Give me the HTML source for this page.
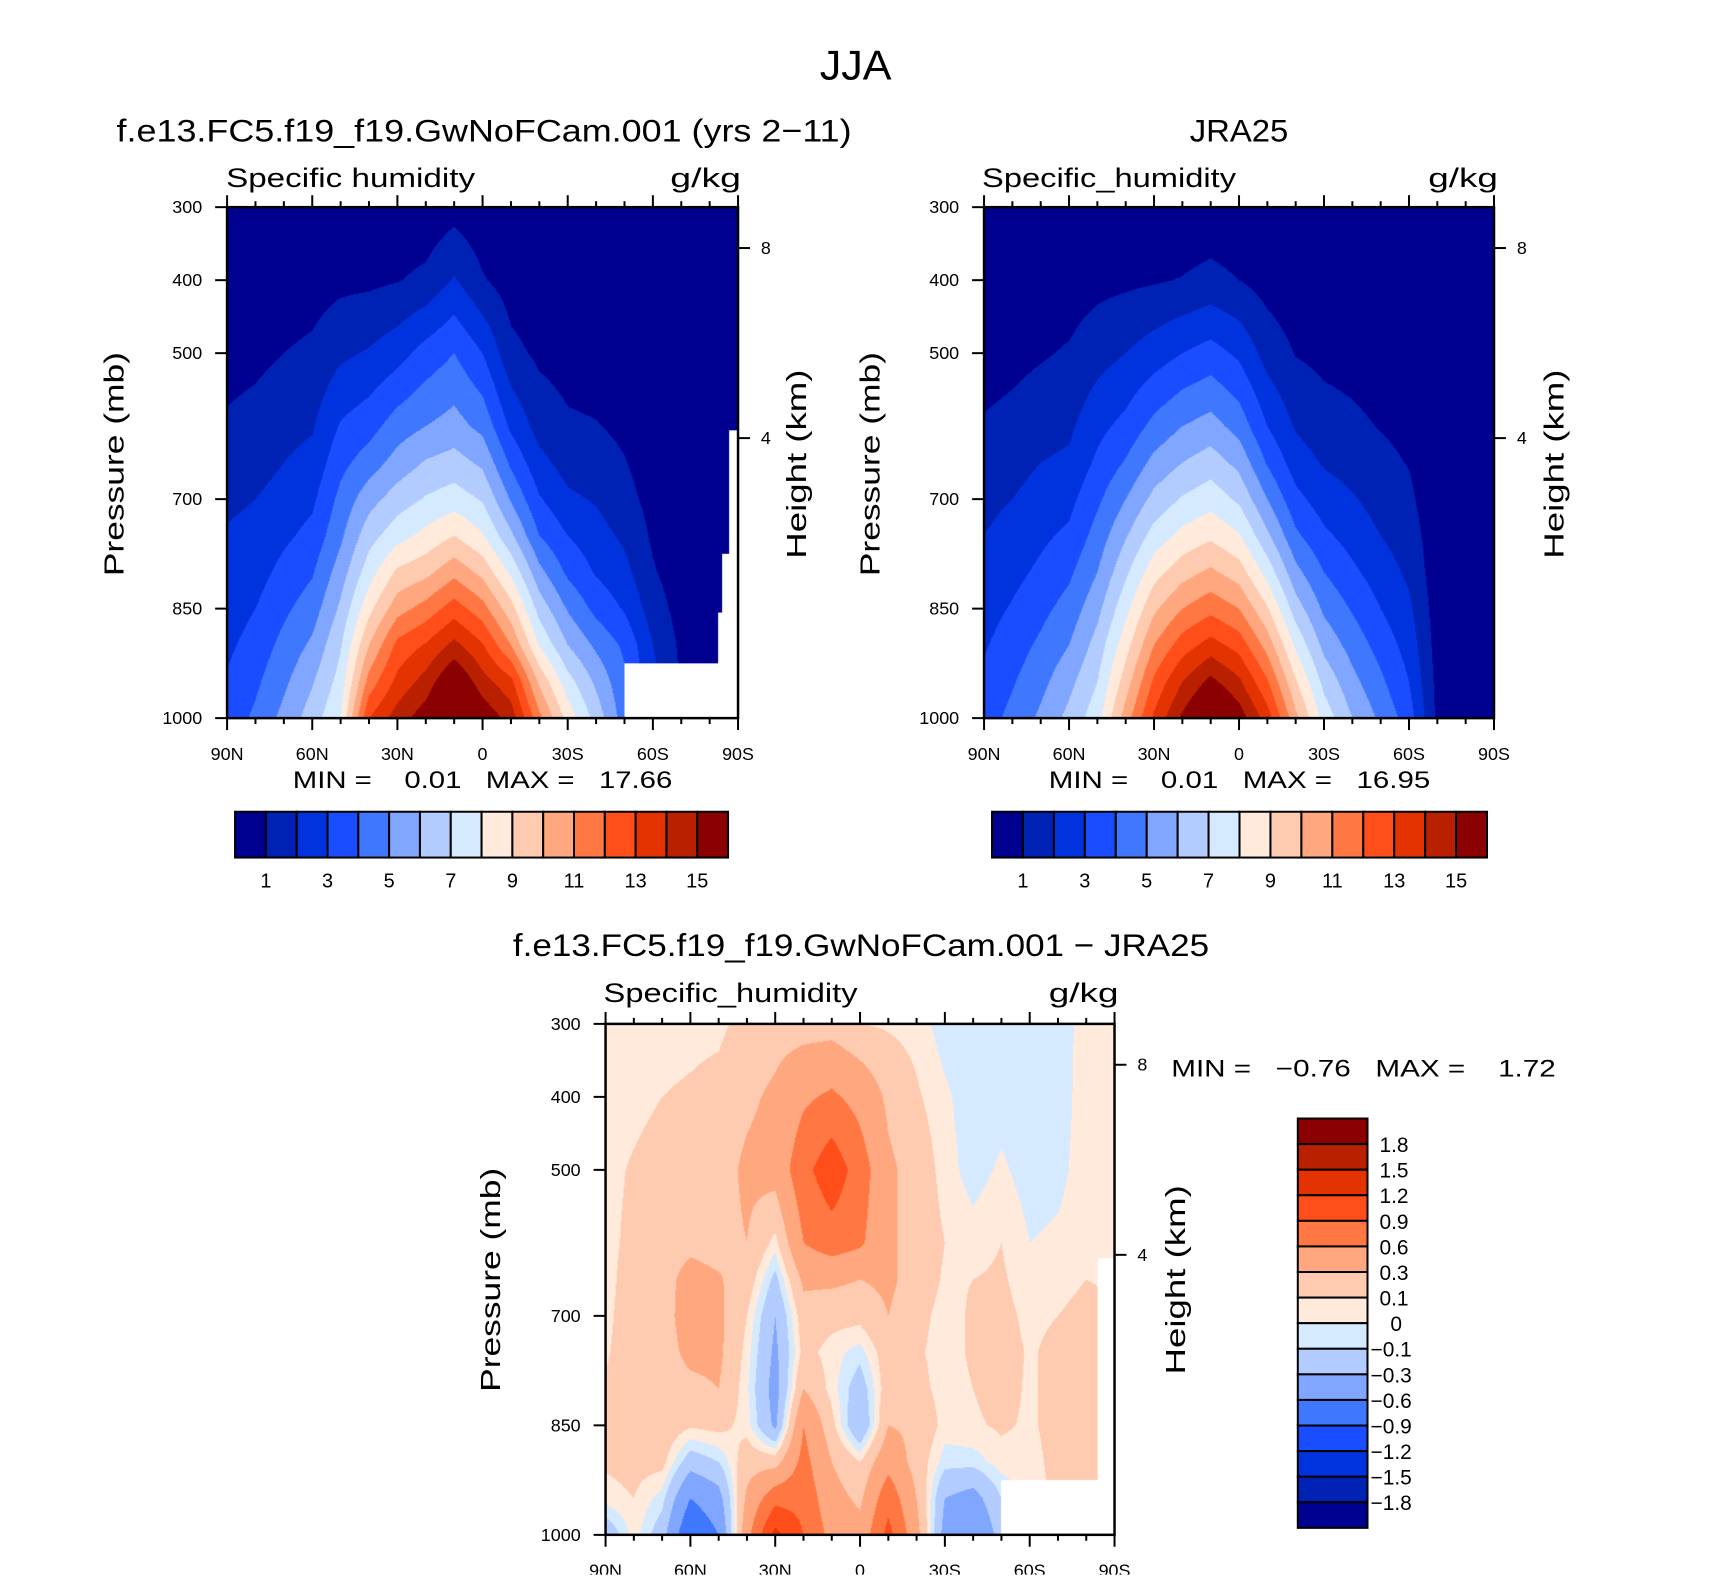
<!DOCTYPE html>
<html><head><meta charset="utf-8"><style>
body{margin:0;background:#fff;width:1710px;height:1581px;overflow:hidden;position:relative}
#wrap{position:absolute;left:0;top:0;width:1710px;height:1581px;transform:scale(0.996);transform-origin:0 0}
canvas{position:absolute}
svg{position:absolute;left:0;top:0}
text{font-family:"Liberation Sans",sans-serif;fill:#000;white-space:pre}
</style></head><body>
<div id="wrap">
<canvas id="c1" style="left:228px;top:208px" width="513" height="513"></canvas>
<canvas id="c2" style="left:988px;top:208px" width="512" height="513"></canvas>
<canvas id="c3" style="left:608px;top:1028px" width="511" height="513"></canvas>
<svg id="svg" width="1710" height="1581" xmlns="http://www.w3.org/2000/svg"></svg>
</div>
<script>
// ---- data ----
const lats = [90,80,70,60,50,40,30,20,10,0,-10,-20,-30,-40,-50,-60,-70,-80,-90];
const pLevels = [1000,950,900,850,800,750,700,650,600,500,400,300];
const modelQ = [
[3.4,3.1,2.8,2.5,2.3,2.1,1.8,1.5,1.15,0.6,0.25,0.05],
[4.2,3.8,3.4,3.0,2.6,2.3,2.0,1.6,1.35,0.75,0.3,0.06],
[5.3,4.8,4.3,3.8,3.3,2.8,2.4,2.0,1.7,1.0,0.45,0.08],
[6.5,5.9,5.2,4.5,3.9,3.3,2.8,2.3,1.9,1.2,0.55,0.1],
[8.0,7.4,6.9,6.2,5.5,4.8,4.3,3.7,3.1,1.8,0.75,0.15],
[13,11.4,10,8.7,7.55,6.6,5.6,4.5,3.6,2.1,0.8,0.15],
[14.5,13.3,12.3,10.6,9.2,7.6,6.5,5.4,4.5,2.6,0.95,0.2],
[15.6,14.4,13.1,11.4,9.7,8.3,7.1,6.1,5.0,3.4,1.25,0.25],
[17.5,16.2,14.3,12.5,10.7,9.0,7.5,6.4,5.4,4.0,2.1,0.6],
[15.8,14.4,13.1,11.4,9.7,8.1,6.9,5.8,4.7,3.0,1.1,0.25],
[14.6,13.3,11,9.4,7.8,6.2,4.9,3.8,2.8,1.3,0.5,0.1],
[11.3,9.8,7.9,6.6,5.3,4.0,3.1,2.3,1.6,0.8,0.3,0.06],
[8.6,7.4,6.0,4.9,3.8,3.0,2.2,1.6,1.15,0.6,0.2,0.05],
[6.6,5.8,4.8,3.7,2.9,2.4,1.9,1.4,1.05,0.5,0.15,0.04],
[4.5,4.2,3.8,2.9,2.3,1.8,1.3,1.05,0.8,0.4,0.12,0.03],
[2.5,2.3,2.0,1.5,1.1,0.85,0.7,0.55,0.45,0.2,0.07,0.02],
[1.0,0.9,0.8,0.6,0.45,0.35,0.28,0.22,0.18,0.1,0.04,0.01],
[0.5,0.45,0.4,0.3,0.25,0.2,0.15,0.12,0.1,0.05,0.02,0.01],
[0.3,0.3,0.25,0.2,0.15,0.12,0.1,0.08,0.06,0.03,0.01,0.01]];
const jraQ = [
[3.5,3.2,2.9,2.6,2.3,2.0,1.75,1.45,1.1,0.55,0.22,0.05],
[4.3,3.9,3.5,3.1,2.7,2.35,2.0,1.65,1.3,0.7,0.28,0.06],
[5.2,4.7,4.2,3.7,3.2,2.8,2.4,2.0,1.6,0.9,0.4,0.08],
[6.3,5.7,5.0,4.4,3.8,3.2,2.7,2.2,1.8,1.1,0.5,0.1],
[7.6,7.0,6.4,5.7,5.0,4.4,3.8,3.2,2.7,1.6,0.7,0.13],
[10.5,9.5,8.6,7.7,6.8,5.9,5.0,4.1,3.3,2.0,0.8,0.15],
[13.2,12.2,11.0,9.8,8.6,7.4,6.3,5.3,4.3,2.5,0.9,0.18],
[15.2,14.0,12.5,11.0,9.6,8.3,7.1,6.0,5.0,3.0,1.05,0.22],
[16.8,15.3,13.4,11.7,10.2,8.8,7.6,6.5,5.4,3.4,1.3,0.3],
[15.6,14.2,12.6,11.0,9.5,8.1,6.8,5.7,4.6,2.8,1.0,0.22],
[13.5,12.1,10.6,9.1,7.6,6.2,5.0,3.9,3.0,1.6,0.6,0.12],
[10.3,9.1,7.8,6.5,5.3,4.2,3.3,2.5,1.9,0.95,0.35,0.07],
[7.6,6.7,5.7,4.8,4.0,3.2,2.5,1.9,1.4,0.75,0.25,0.05],
[6.0,5.3,4.6,3.9,3.2,2.6,2.1,1.6,1.2,0.65,0.2,0.04],
[4.8,4.2,3.6,3.0,2.5,2.0,1.6,1.25,0.95,0.5,0.15,0.03],
[3.5,3.0,2.6,2.2,1.8,1.5,1.2,0.95,0.75,0.35,0.1,0.02],
[0.8,0.7,0.6,0.5,0.4,0.35,0.3,0.25,0.2,0.1,0.04,0.01],
[0.4,0.35,0.3,0.25,0.2,0.17,0.14,0.12,0.1,0.05,0.02,0.01],
[0.3,0.27,0.23,0.2,0.16,0.13,0.11,0.09,0.07,0.04,0.01,0.01]];
const diffQ = [
[-0.25,0.05,0.12,0.15,0.12,0.08,0.06,0.05,0.05,0.05,0.04,0.03],
[0.05,0.1,0.15,0.2,0.2,0.2,0.2,0.18,0.15,0.12,0.05,0.03],
[-0.2,-0.05,0.15,0.22,0.22,0.22,0.22,0.22,0.2,0.18,0.1,0.05],
[-0.9,-0.6,-0.2,0.12,0.25,0.35,0.4,0.38,0.25,0.2,0.12,0.06],
[-0.6,-0.4,-0.1,0.15,0.3,0.35,0.35,0.32,0.22,0.2,0.15,0.07],
[0.5,0.35,0.2,0.05,0.02,0.05,0.1,0.2,0.3,0.35,0.25,0.15],
[1.3,0.8,0.2,-0.35,-0.4,-0.35,-0.3,-0.15,0.05,0.4,0.35,0.2],
[0.9,0.8,0.7,0.6,0.3,0.15,0.2,0.35,0.6,0.8,0.55,0.2],
[0.5,0.4,0.3,0.15,0.05,0.05,0.15,0.35,0.75,1.1,0.65,0.2],
[0.4,0.25,0.1,-0.3,-0.2,-0.05,0.15,0.3,0.65,0.75,0.5,0.1],
[1.0,0.8,0.5,0.3,0.2,0.2,0.3,0.35,0.35,0.35,0.25,0.08],
[0.4,0.3,0.2,0.25,0.15,0.12,0.15,0.2,0.2,0.2,0.12,0.05],
[-0.4,-0.3,-0.05,0.05,0.05,0.05,0.05,0.08,0.1,0.05,0.02,-0.05],
[-0.6,-0.4,-0.05,0.08,0.1,0.12,0.12,0.1,0.05,-0.05,-0.06,-0.05],
[-0.2,-0.1,0.05,0.12,0.15,0.18,0.15,0.12,0.1,0.02,-0.05,-0.05],
[0.05,0.05,0.05,0.08,0.08,0.08,0.06,0.03,0.0,-0.05,-0.05,-0.05],
[0.05,0.12,0.15,0.15,0.15,0.15,0.1,0.05,0.02,-0.03,-0.05,-0.05],
[0.1,0.15,0.2,0.2,0.2,0.2,0.15,0.1,0.06,0.05,0.05,0.04],
[0.1,0.1,0.12,0.12,0.12,0.12,0.1,0.08,0.06,0.05,0.05,0.05]];
const qLevels = [1,2,3,4,5,6,7,8,9,10,11,12,13,14,15];
const dLevels = [-1.8,-1.5,-1.2,-0.9,-0.6,-0.3,-0.1,0,0.1,0.3,0.6,0.9,1.2,1.5,1.8];
const qLabels = ["1","3","5","7","9","11","13","15"];
const dLabels = ["1.8","1.5","1.2","0.9","0.6","0.3","0.1","0","\u22120.1","\u22120.3","\u22120.6","\u22120.9","\u22121.2","\u22121.5","\u22121.8"];
const modelMissing = [[-50,-90,925],[-83,-90,855],[-84.5,-90,775],[-87,-90,605]];
const diffMissing = [[-50,-90,925],[-84,-90,620]];
const latTicks = [90,60,30,0,-30,-60,-90];
const latTickLabels = ["90N","60N","30N","0","30S","60S","90S"];
const pTicks = [300,400,500,700,850,1000];
const kmTicks = [4,8];
const palette = ["#000090","#0022b4","#0033dd","#1a4dff","#4077ff","#80a6ff","#b3ccff","#d6eaff","#ffeadb","#ffcbb0","#ffa880","#ff7843","#ff4e1a","#e33300","#b82000","#8b0000"];

// ---- helpers ----
const NS="http://www.w3.org/2000/svg";
const svg=document.getElementById('svg');
function mk(tag,attrs,parent){const e=document.createElementNS(NS,tag);for(const k in attrs)e.setAttribute(k,attrs[k]);(parent||svg).appendChild(e);return e;}
function txt(s,x,y,size,anchor,extra){const e=mk('text',Object.assign({x:x,y:y,'font-size':size,'text-anchor':anchor||'start'},extra||{}));e.textContent=s;return e;}
function hex(c){return [parseInt(c.substr(1,2),16),parseInt(c.substr(3,2),16),parseInt(c.substr(5,2),16)];}
const pal=palette.map(hex);
function interp(tab,lat,p){
  let fi=(90-lat)/10; let i=Math.min(Math.floor(fi),lats.length-2); let tx=fi-i;
  let j=0; while(j<pLevels.length-2 && p<pLevels[j+1]) j++;
  let ty=(pLevels[j]-p)/(pLevels[j]-pLevels[j+1]); ty=Math.max(0,Math.min(1,ty));
  const a=tab[i][j],b=tab[i+1][j],c=tab[i][j+1],d=tab[i+1][j+1];
  return (a*(1-tx)+b*tx)*(1-ty)+(c*(1-tx)+d*tx)*ty;
}
function drawField(id,tab,levels,missing){
  const cv=document.getElementById(id),ctx=cv.getContext('2d');const W=cv.width,H=cv.height;
  const img=ctx.createImageData(W,H);
  for(let y=0;y<H;y++){const p=300+(y+0.5)/H*700;
    for(let x=0;x<W;x++){const lat=90-(x+0.5)/W*180;
      let miss=false;for(const m of missing){if(lat<=m[0]&&lat>=m[1]&&p>=m[2])miss=true;}
      let col=[255,255,255];
      if(!miss){const v=interp(tab,lat,p);let k=0;while(k<levels.length&&v>=levels[k])k++;col=pal[k];}
      const o=(y*W+x)*4;img.data[o]=col[0];img.data[o+1]=col[1];img.data[o+2]=col[2];img.data[o+3]=255;}}
  ctx.putImageData(img,0,0);
}
function kmToP(z){return 1013.25*Math.pow(1-2.25577e-5*z*1000,5.256);}
function axes(x0,x1,y0,y1,name,leftTitleX,rightTitleX,titleY){
  const g=mk('g',{});
  const X=lat=>x0+(90-lat)/180*(x1-x0), Y=p=>y0+(p-300)/700*(y1-y0);
  mk('rect',{x:x0,y:y0,width:x1-x0,height:y1-y0,fill:'none',stroke:'#000','stroke-width':2.5},g);
  for(let l=90;l>=-90;l-=10){const maj=(l%30===0);const L=maj?12:6;
    mk('line',{x1:X(l),x2:X(l),y1:y0,y2:y0-L,stroke:'#000','stroke-width':2},g);
    mk('line',{x1:X(l),x2:X(l),y1:y1,y2:y1+L,stroke:'#000','stroke-width':2},g);}
  latTicks.forEach((l,i)=>{const t=txt(latTickLabels[i],X(l),y1+42,18,'middle');});
  pTicks.forEach(p=>{mk('line',{x1:x0,x2:x0-12,y1:Y(p),y2:Y(p),stroke:'#000','stroke-width':2},g);
    const t=txt(String(p),x0-25,Y(p)+6,18,'end');});
  kmTicks.forEach(k=>{const yy=Y(kmToP(k));mk('line',{x1:x1,x2:x1+12,y1:yy,y2:yy,stroke:'#000','stroke-width':2},g);
    const t=txt(String(k),x1+23,yy+6,18,'start');});
  const lt=txt('Pressure (mb)',0,0,28,'middle',{transform:`translate(${leftTitleX},${titleY}) rotate(-90)`,textLength:225,lengthAdjust:'spacingAndGlyphs'});
  
  const rt=txt('Height (km)',0,0,28,'middle',{transform:`translate(${rightTitleX},${titleY}) rotate(-90)`,textLength:190,lengthAdjust:'spacingAndGlyphs'});
  
}
function hbar(x0,y0,w,h,name){
  const g=mk('g',{});const bw=w/palette.length;
  palette.forEach((c,i)=>{mk('rect',{x:x0+i*bw,y:y0,width:bw,height:h,fill:c,stroke:'#000','stroke-width':2},g);});
  qLabels.forEach((s,i)=>{const t=txt(s,x0+(1+2*i)*bw,y0+h+30,20,'middle');});
}
function vbar(x0,y0,w,h){
  const g=mk('g',{});const bh=h/palette.length;
  for(let i=0;i<palette.length;i++){mk('rect',{x:x0,y:y0+i*bh,width:w,height:bh,fill:palette[palette.length-1-i],stroke:'#000','stroke-width':2},g);}
  dLabels.forEach((s,i)=>{const yy=y0+(i+1)*bh+8;let xx=1385;if(s==='0')xx=1396;else if(s[0]==='\u2212')xx=1376;
    const t=txt(s,xx,yy,21,'start');});
}
// ---- draw ----
drawField('c1',modelQ,qLevels,modelMissing);
drawField('c2',jraQ,qLevels,[]);
drawField('c3',diffQ,dLevels,diffMissing);
axes(228,741,208,721,'model',124,809,466);
axes(988,1500,208,721,'jra25',883,1570,466);
axes(608,1119,1028,1541,'difference',502,1190,1285);
hbar(236,815,495,46,'model-colorbar');
hbar(996,815,497,46,'jra25-colorbar');
vbar(1303,1123,70,411);
function T(s,x,y,size,anchor,len,name){const e=txt(s,x,y,size,anchor,len?{textLength:len,lengthAdjust:'spacingAndGlyphs'}:{});return e;}
T('JJA',859,80,42,'middle',72,'main-title');
T('f.e13.FC5.f19_f19.GwNoFCam.001 (yrs 2\u221211)',117,142,32,'start',738,'model-title');
T('JRA25',1244,142,32,'middle',99,'jra25-title');
T('Specific humidity',227,188,27,'start',250,'model-variable-label');
T('g/kg',744,188,27,'end',71,'model-units-label');
T('Specific_humidity',986,188,27,'start',255,'jra25-variable-label');
T('g/kg',1504,188,27,'end',70,'jra25-units-label');
T('f.e13.FC5.f19_f19.GwNoFCam.001 \u2212 JRA25',515,960,32,'start',699,'difference-title');
T('Specific_humidity',606,1006,27,'start',255,'difference-variable-label');
T('g/kg',1123,1006,27,'end',70,'difference-units-label');
T('MIN =    0.01   MAX =   17.66',294,791,24,'start',381,'model-min-max');
T('MIN =    0.01   MAX =   16.95',1053,791,24,'start',383,'jra25-min-max');
T('MIN =   \u22120.76   MAX =    1.72',1176,1081,24,'start',386,'difference-min-max');
</script>
</body></html>
